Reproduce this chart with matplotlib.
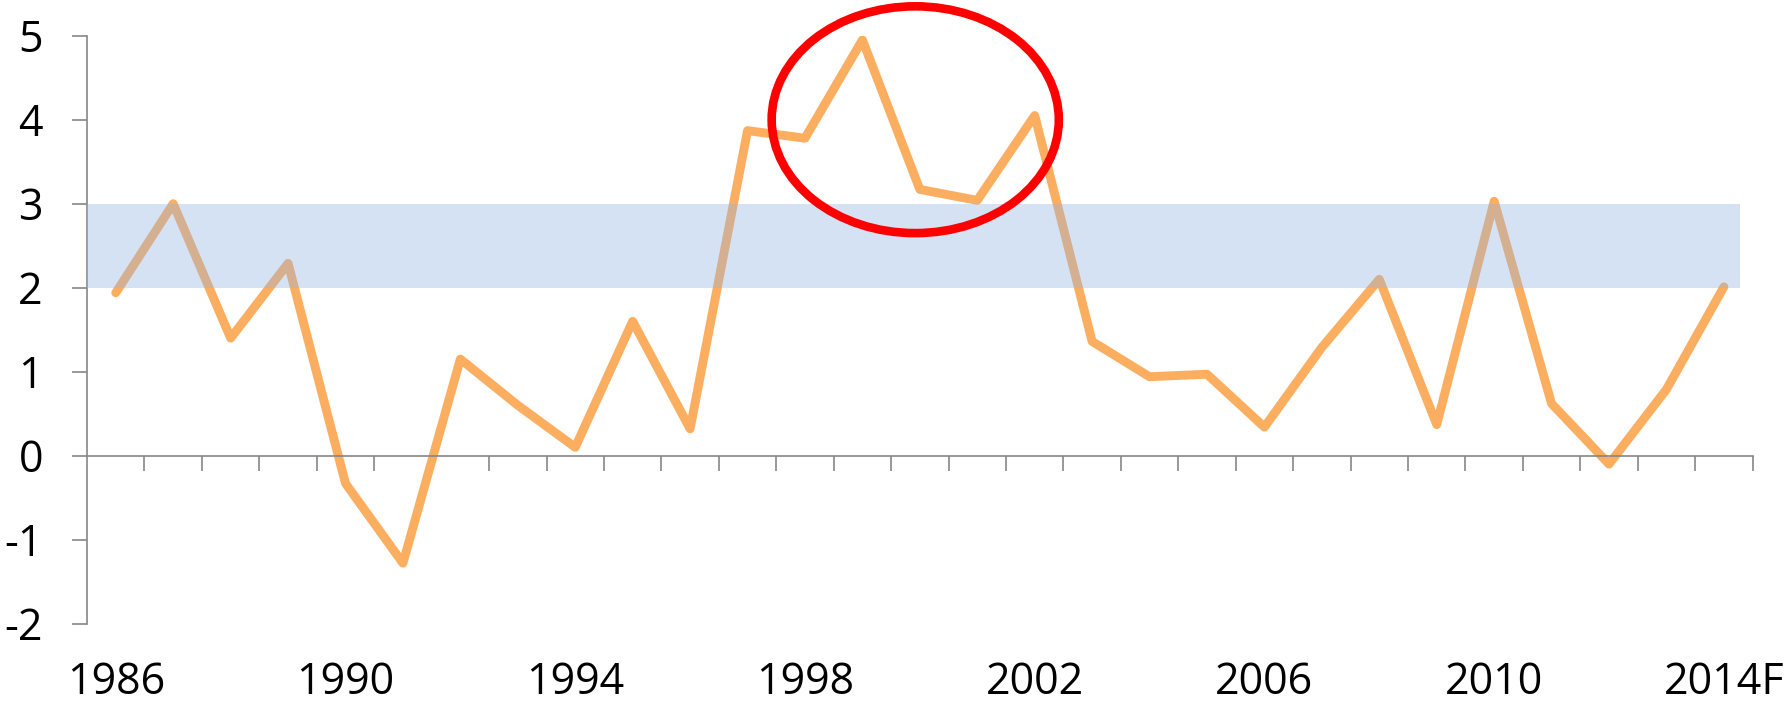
import matplotlib
matplotlib.use("Agg")
import matplotlib.pyplot as plt
from matplotlib.patches import Ellipse, Rectangle
from matplotlib.ticker import FixedLocator

# data
years = [str(y) for y in range(1986, 2014)] + ["2014F"]
values = [1.94, 3.00, 1.40, 2.29, -0.33, -1.28, 1.15, 0.60, 0.10, 1.60,
          0.32, 3.87, 3.78, 4.95, 3.17, 3.04, 4.05, 1.36, 0.94, 0.97,
          0.34, 1.29, 2.10, 0.37, 3.03, 0.62, -0.10, 0.79, 2.01]
label_every = 4
band_low, band_high = 2, 3
y_ticks = [-2, -1, 0, 1, 2, 3, 4, 5]

LINE_COLOR = "#FCAE60"
BAND_COLOR = (147 / 255, 181 / 255, 226 / 255)
AXIS_GREY = "#868686"
FONT = "Open Sans"
FS = 31

plt.rcParams["font.family"] = [FONT, "DejaVu Sans"]

fig = plt.figure(figsize=(17.84, 7.06), dpi=100)
ax = fig.add_axes([0.0488, 0.1166, 0.9336, 0.8328])

x = list(range(len(years)))
ax.plot(x, values, color=LINE_COLOR, lw=6.4, solid_joinstyle="round",
        solid_capstyle="round", zorder=2)

# target band drawn over the line, slightly transparent
ax.add_patch(Rectangle((-0.5, band_low), 28.78, band_high - band_low,
                       facecolor=BAND_COLOR, edgecolor="none", alpha=0.38, zorder=3))

# highlight ellipse
ax.add_patch(Ellipse((13.92, 4.0), 5.0, 2.70, fill=False, edgecolor="#FF0000",
                     lw=6.2, zorder=4, clip_on=False))

ax.set_xlim(-0.5, len(years) - 0.5)
ax.set_ylim(-2, 5)

for s in ("top", "right"):
    ax.spines[s].set_visible(False)
ax.spines["bottom"].set_position(("data", 0))
for s in ("left", "bottom"):
    ax.spines[s].set_color(AXIS_GREY)
    ax.spines[s].set_linewidth(1.2)

ax.set_yticks(y_ticks)
ax.set_yticklabels([str(v) for v in y_ticks])
ax.tick_params(axis="y", length=10.8, width=1.2, color=AXIS_GREY, pad=21,
               labelsize=FS, labelcolor="black")

# category boundary ticks on the zero line
ax.set_xticks([])
ax.xaxis.set_minor_locator(FixedLocator([i + 0.5 for i in range(len(years))]))
ax.tick_params(axis="x", which="minor", length=11, width=1.2, color=AXIS_GREY,
               direction="out")

# category labels sit at the bottom of the plot
for i, lab in enumerate(years):
    if i % label_every == 0:
        ax.text(i, -0.1375, lab, transform=ax.get_xaxis_transform(),
                ha="center", va="bottom", fontsize=FS, color="black")

fig.savefig("out.png", dpi=100)
